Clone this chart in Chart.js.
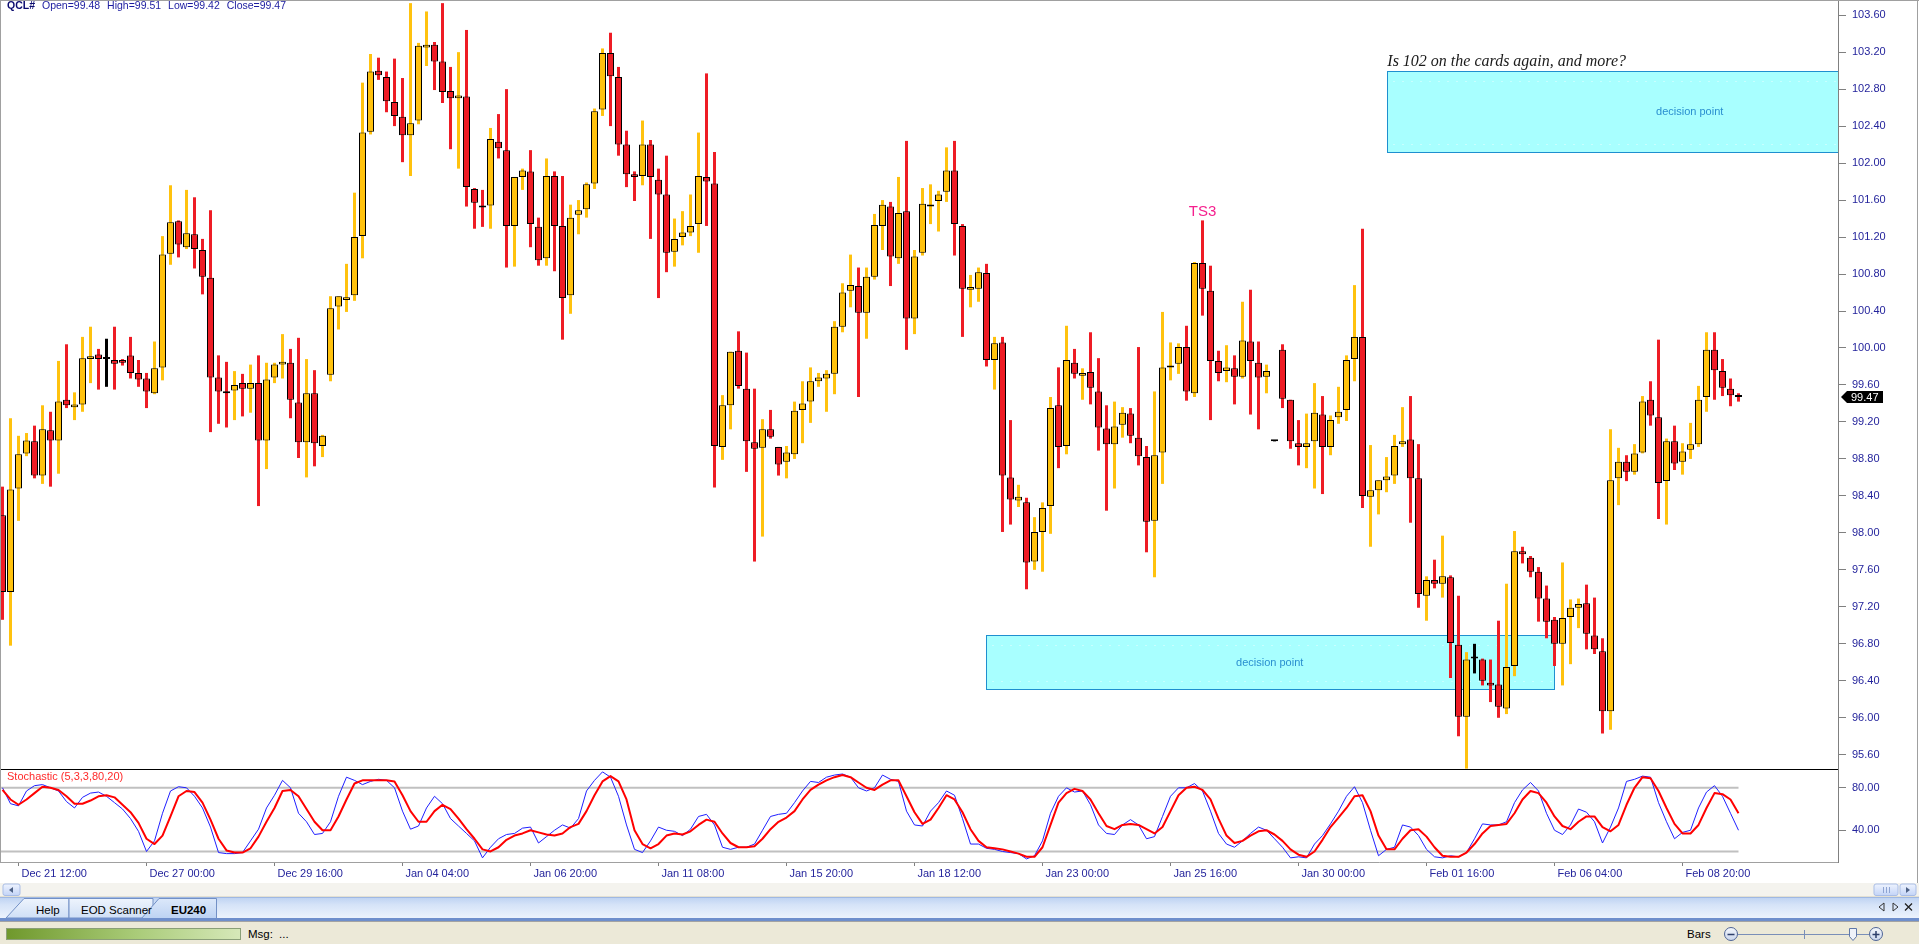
<!DOCTYPE html>
<html>
<head>
<meta charset="utf-8">
<title>QCL# 240 min</title>
<script src="https://cdn.jsdelivr.net/npm/chart.js@4.4.1/dist/chart.umd.min.js"></script>
<style>
  html, body { margin: 0; padding: 0; background: #fff; width: 1919px; height: 944px; overflow: hidden; }
  canvas { position: absolute; left: 0; }
  #main { top: 0; }
  #stoch { top: 769px; }
  .rule { position: absolute; background: #a0a0a0; }
  #bottom { position: absolute; left: 0; top: 883px; }
  #bottom text { font-family: "Liberation Sans", Arial, sans-serif; }
</style>
</head>
<body>
<canvas id="main" width="1919" height="769"></canvas>
<canvas id="stoch" width="1919" height="114"></canvas>
<div class="rule" style="left:0;top:0;width:1919px;height:1px"></div>
<div class="rule" style="left:0;top:0;width:1px;height:862px"></div>
<div class="rule" style="left:1917px;top:0;width:1px;height:883px"></div>

<svg id="bottom" width="1919" height="61" xmlns="http://www.w3.org/2000/svg">
  <defs>
    <linearGradient id="btn" x1="0" y1="0" x2="0" y2="1">
      <stop offset="0" stop-color="#eef3fe"/><stop offset="1" stop-color="#c3d4f7"/>
    </linearGradient>
    <linearGradient id="tabbar" x1="0" y1="0" x2="0" y2="1">
      <stop offset="0" stop-color="#bcd1f2"/><stop offset="0.35" stop-color="#d5e3f8"/><stop offset="1" stop-color="#eef4fd"/>
    </linearGradient>
    <linearGradient id="tab" x1="0" y1="0" x2="0" y2="1">
      <stop offset="0" stop-color="#eef4fd"/><stop offset="1" stop-color="#cfdff6"/>
    </linearGradient>
    <linearGradient id="tabActive" x1="0" y1="0" x2="0" y2="1">
      <stop offset="0" stop-color="#dce8fa"/><stop offset="1" stop-color="#bcd2f3"/>
    </linearGradient>
    <linearGradient id="progress" x1="0" y1="0" x2="1" y2="0">
      <stop offset="0" stop-color="#6f982c"/><stop offset="0.55" stop-color="#a9cb78"/><stop offset="1" stop-color="#d6e8b9"/>
    </linearGradient>
    <linearGradient id="round" x1="0" y1="0" x2="0" y2="1">
      <stop offset="0" stop-color="#f4f7fc"/><stop offset="1" stop-color="#c9d5ec"/>
    </linearGradient>
  </defs>
  <!-- horizontal scroll row -->
  <rect x="0" y="0" width="1919" height="14" fill="#f4f3ee"/>
  <rect x="0" y="13" width="1919" height="1" fill="#e3e0d3"/>
  <rect x="3" y="1" width="17" height="11.5" rx="2" fill="url(#btn)" stroke="#a9bde6"/>
  <polygon points="9,7 13,4 13,10" fill="#4d6185"/>
  <rect x="1874" y="1" width="24" height="11.5" rx="2" fill="url(#btn)" stroke="#a9bde6"/>
  <path d="M1883.5 4v6M1886.5 4v6M1889.5 4v6" stroke="#8ea4d2"/>
  <rect x="1900" y="1" width="16" height="11.5" rx="2" fill="url(#btn)" stroke="#a9bde6"/>
  <polygon points="1910,7 1906,4 1906,10" fill="#4d6185"/>
  <!-- tab strip -->
  <rect x="0" y="14" width="1919" height="22" fill="url(#tabbar)"/>
  <rect x="0" y="14" width="1919" height="1" fill="#9fb8e2"/>
  <path d="M6 35 L24 15.5 L69 15.5 L69 35 Z" fill="url(#tab)" stroke="#7290c6"/>
  <path d="M69 35 L69 15.5 L153 15.5 L153 35 Z" fill="url(#tab)" stroke="#7290c6"/>
  <path d="M141 36 L159 15.5 L216.5 15.5 L216.5 36 Z" fill="url(#tabActive)" stroke="#7290c6"/>
  <text x="36" y="31" font-size="11.5" fill="#000">Help</text>
  <text x="81" y="31" font-size="11.5" fill="#000">EOD Scanner</text>
  <text x="171" y="31" font-size="11.5" font-weight="bold" fill="#000">EU240</text>
  <path d="M1884 20 L1879 24 L1884 28 Z M1893 20 L1898 24 L1893 28 Z" fill="none" stroke="#333"/>
  <path d="M1905 20.5 L1912 27.5 M1912 20.5 L1905 27.5" stroke="#222" stroke-width="1.3"/>
  <rect x="0" y="35" width="1919" height="3" fill="#6f8fcc"/>
  <rect x="0" y="38" width="1919" height="1" fill="#a3a3a3"/>
  <!-- status bar -->
  <rect x="0" y="39" width="1919" height="22" fill="#ece9d8"/>
  <rect x="6.5" y="45.5" width="234" height="11" fill="url(#progress)" stroke="#8a9f78"/>
  <text x="248" y="55" font-size="11.5" fill="#000">Msg:</text>
  <text x="279" y="55" font-size="11.5" fill="#000">...</text>
  <text x="1687" y="55" font-size="11.5" fill="#000">Bars</text>
  <line x1="1738" y1="51.5" x2="1869" y2="51.5" stroke="#7a8fb8"/>
  <line x1="1804.5" y1="47" x2="1804.5" y2="56" stroke="#7a8fb8"/>
  <circle cx="1731" cy="51" r="6.5" fill="url(#round)" stroke="#4f6596"/>
  <line x1="1727.5" y1="51.5" x2="1734.5" y2="51.5" stroke="#2d3f6b" stroke-width="1.5"/>
  <polygon points="1849.5,45.5 1856.5,45.5 1856.5,53.5 1853,57.5 1849.5,53.5" fill="#eef2f9" stroke="#6078a8"/>
  <circle cx="1876" cy="51" r="6.5" fill="url(#round)" stroke="#4f6596"/>
  <path d="M1872.5 51.5h7M1876 48v7" stroke="#2d3f6b" stroke-width="1.5"/>
</svg>

<script>
// 240-minute bars, oldest first
const opens = [
    98.19, 97.36, 98.48, 98.86, 98.99, 98.62, 99.11, 99.00, 99.44, 99.36,
    99.39, 99.88, 99.93, 99.88, 99.87, 99.87, 99.92, 99.73, 99.67, 99.51,
    99.79, 101.02, 101.37, 101.09, 101.23, 101.06, 100.76, 99.68, 99.53, 99.54,
    99.62, 99.56, 99.62, 99.00, 99.68, 99.82, 99.84, 99.41, 98.98, 99.51,
    98.94, 99.71, 100.45, 100.52, 100.57, 101.21, 102.34, 103.00, 102.93, 102.66,
    102.50, 102.30, 102.46, 103.25, 103.28, 103.10, 102.78, 102.70, 102.72, 101.72,
    101.54, 101.54, 102.23, 102.14, 101.32, 101.85, 101.91, 101.31, 100.97, 101.86,
    101.32, 100.57, 101.44, 101.50, 101.78, 102.58, 103.19, 102.93, 102.20, 101.88,
    101.86, 102.20, 101.82, 101.66, 101.04, 101.20, 101.25, 101.34, 101.85, 101.78,
    98.93, 99.38, 99.97, 99.56, 98.98, 98.92, 99.12, 98.93, 98.77, 98.85,
    99.33, 99.42, 99.64, 99.67, 99.72, 100.23, 100.62, 100.67, 100.38, 100.77,
    101.32, 101.53, 100.97, 101.48, 100.32, 101.03, 101.53, 101.59, 101.69, 101.92,
    101.32, 100.63, 100.64, 100.81, 99.87, 100.06, 98.60, 98.35, 98.33, 97.69,
    98.01, 98.29, 99.38, 98.94, 99.84, 99.70, 99.74, 99.53, 99.13, 98.96,
    99.17, 99.29, 99.03, 98.82, 98.13, 98.87, 99.79, 99.83, 100.01, 99.51,
    100.92, 100.62, 99.86, 99.75, 99.78, 99.69, 100.07, 99.84, 99.69, 98.99,
    99.98, 99.44, 98.97, 98.93, 98.99, 99.28, 98.93, 99.25, 99.33, 99.88,
    100.12, 98.39, 98.46, 98.57, 98.62, 98.96, 99.01, 98.59, 97.32, 97.49,
    97.45, 97.52, 96.79, 96.01, 96.64, 96.63, 96.38, 96.36, 96.10, 96.56,
    97.80, 97.73, 97.58, 97.29, 97.06, 96.80, 97.09, 97.19, 97.24, 96.89,
    96.72, 96.07, 98.59, 98.77, 98.66, 98.87, 99.44, 99.25, 98.56, 98.99,
    98.77, 98.90, 98.96, 99.47, 99.98, 99.75, 99.56, 99.48
];
const highs = [
    98.50, 99.24, 99.05, 99.08, 99.16, 99.38, 99.31, 99.86, 100.04, 99.52,
    100.12, 100.23, 99.99, 100.10, 100.23, 99.88, 100.12, 99.87, 99.73, 100.07,
    101.21, 101.76, 101.38, 101.71, 101.63, 101.18, 101.49, 99.92, 99.85, 99.75,
    99.72, 99.82, 99.92, 99.84, 99.84, 100.15, 99.99, 100.11, 99.88, 99.76,
    99.06, 100.56, 100.56, 100.91, 101.68, 102.87, 103.18, 103.14, 102.99, 103.13,
    102.92, 103.73, 103.30, 103.64, 103.31, 103.73, 103.04, 103.20, 103.44, 101.73,
    101.71, 102.38, 102.53, 102.80, 101.85, 101.94, 102.14, 101.41, 102.05, 101.91,
    101.86, 101.55, 101.60, 101.79, 102.59, 103.24, 103.41, 103.04, 102.35, 101.91,
    102.46, 102.25, 101.94, 102.08, 101.40, 101.48, 101.66, 102.33, 102.97, 102.12,
    99.49, 99.96, 100.18, 99.95, 99.56, 99.23, 99.33, 98.93, 98.94, 99.42,
    99.64, 99.79, 99.73, 99.76, 100.29, 100.70, 101.01, 100.87, 100.87, 101.45,
    101.60, 101.58, 101.85, 102.24, 101.06, 101.73, 101.77, 101.70, 102.17, 102.24,
    101.34, 100.79, 100.87, 100.91, 100.12, 100.12, 99.22, 98.52, 98.38, 98.17,
    98.33, 99.47, 99.79, 100.24, 99.99, 99.78, 100.17, 99.89, 99.38, 99.42,
    99.36, 99.35, 100.01, 98.94, 99.53, 100.39, 100.06, 100.05, 100.24, 100.93,
    101.38, 100.89, 99.97, 100.03, 99.92, 100.50, 100.63, 100.07, 99.82, 98.99,
    100.04, 99.44, 99.22, 99.29, 99.62, 99.48, 99.27, 99.58, 99.92, 100.68,
    101.29, 98.95, 98.57, 98.82, 99.06, 99.36, 99.48, 98.96, 97.53, 97.71,
    97.97, 97.54, 97.32, 96.71, 96.80, 96.64, 96.63, 97.05, 97.45, 98.02,
    97.85, 97.75, 97.63, 97.43, 97.09, 97.68, 97.28, 97.29, 97.44, 97.30,
    96.86, 99.12, 98.92, 98.84, 98.96, 99.48, 99.64, 100.09, 99.02, 99.16,
    98.97, 99.19, 99.59, 100.17, 100.17, 99.88, 99.67, 99.51
];
const lows = [
    97.06, 96.78, 98.13, 98.83, 98.59, 98.53, 98.50, 98.64, 99.35, 99.22,
    99.31, 99.62, 99.55, 99.58, 99.55, 99.81, 99.67, 99.58, 99.35, 99.50,
    99.65, 100.90, 100.98, 101.07, 100.86, 100.58, 99.09, 99.18, 99.14, 99.22,
    99.26, 99.30, 98.29, 98.69, 99.62, 99.67, 99.24, 98.81, 98.60, 98.72,
    98.82, 99.64, 100.20, 100.39, 100.51, 100.97, 102.31, 102.90, 102.55, 102.40,
    102.01, 101.86, 102.42, 103.05, 102.79, 102.65, 102.15, 101.94, 101.53, 101.29,
    101.31, 101.29, 102.05, 100.87, 100.88, 101.71, 101.09, 100.89, 100.89, 100.83,
    100.09, 100.37, 101.23, 101.41, 101.72, 102.51, 102.40, 102.08, 101.74, 101.59,
    101.76, 101.18, 100.54, 100.82, 100.88, 101.11, 101.21, 101.03, 101.32, 98.49,
    98.79, 99.12, 99.56, 98.66, 97.69, 97.96, 99.02, 98.62, 98.59, 98.80,
    98.97, 99.19, 99.58, 99.31, 99.50, 100.17, 100.44, 99.47, 100.10, 100.74,
    101.06, 100.67, 100.91, 99.98, 100.15, 101.00, 101.34, 101.26, 101.58, 101.00,
    100.12, 100.44, 100.50, 99.80, 99.55, 98.01, 98.09, 98.28, 97.39, 97.60,
    97.58, 97.99, 98.70, 98.85, 99.67, 99.44, 99.39, 98.89, 98.24, 98.48,
    99.03, 98.97, 98.73, 97.79, 97.52, 98.53, 99.65, 99.72, 99.43, 99.47,
    100.35, 99.22, 99.64, 99.63, 99.39, 99.67, 99.28, 99.12, 99.51, 98.99,
    99.35, 98.91, 98.73, 98.70, 98.48, 98.42, 98.84, 99.18, 99.21, 99.64,
    98.27, 97.85, 98.20, 98.44, 98.53, 98.93, 98.11, 97.19, 97.05, 97.40,
    97.30, 96.43, 95.80, 95.45, 96.48, 96.35, 96.17, 96.00, 96.04, 96.45,
    97.67, 97.52, 97.04, 96.86, 96.56, 96.35, 96.58, 96.97, 96.74, 96.69,
    95.83, 95.87, 98.30, 98.56, 98.63, 98.86, 99.16, 98.15, 98.09, 98.68,
    98.63, 98.80, 98.93, 99.31, 99.44, 99.48, 99.37, 99.42
];
const closes = [
    97.36, 98.47, 98.85, 99.00, 98.62, 99.12, 99.00, 99.42, 99.38, 99.39,
    99.89, 99.91, 99.88, 99.88, 99.83, 99.84, 99.73, 99.66, 99.53, 99.78,
    101.01, 101.36, 101.12, 101.24, 101.07, 100.77, 99.68, 99.53, 99.51, 99.60,
    99.56, 99.62, 99.00, 99.66, 99.82, 99.85, 99.44, 98.98, 99.51, 98.97,
    99.05, 100.43, 100.56, 100.55, 101.20, 102.33, 102.99, 102.95, 102.67, 102.51,
    102.30, 102.43, 103.27, 103.28, 103.10, 102.77, 102.70, 102.73, 101.74, 101.57,
    101.52, 102.26, 102.16, 101.32, 101.85, 101.92, 101.34, 100.95, 101.86, 101.32,
    100.54, 101.41, 101.49, 101.77, 102.56, 103.19, 102.94, 102.20, 101.88, 101.85,
    102.20, 101.85, 101.66, 101.03, 101.18, 101.25, 101.32, 101.86, 101.80, 98.94,
    99.38, 99.96, 99.59, 98.99, 98.91, 99.12, 99.04, 98.74, 98.87, 99.32,
    99.40, 99.64, 99.68, 99.72, 100.23, 100.60, 100.68, 100.38, 100.77, 101.33,
    101.55, 100.99, 101.46, 100.32, 100.99, 101.56, 101.55, 101.66, 101.92, 101.34,
    100.64, 100.66, 100.82, 99.87, 100.05, 98.62, 98.36, 98.39, 97.68, 98.01,
    98.27, 99.35, 98.93, 99.87, 99.72, 99.73, 99.57, 99.14, 98.96, 99.15,
    99.30, 99.05, 98.83, 98.12, 98.84, 99.79, 99.81, 100.01, 99.53, 100.92,
    100.64, 99.86, 99.73, 99.79, 99.69, 100.08, 99.86, 99.68, 99.75, 98.99,
    99.45, 98.99, 98.93, 98.97, 99.30, 98.93, 99.22, 99.31, 99.87, 100.12,
    98.40, 98.46, 98.57, 98.61, 98.94, 98.99, 98.59, 97.34, 97.49, 97.45,
    97.53, 96.81, 96.01, 96.63, 96.64, 96.40, 96.35, 96.12, 96.55, 97.80,
    97.77, 97.58, 97.29, 97.04, 96.80, 97.08, 97.19, 97.23, 96.91, 96.74,
    96.07, 98.57, 98.77, 98.66, 98.86, 99.42, 99.27, 98.54, 98.99, 98.75,
    98.88, 98.96, 99.44, 99.98, 99.76, 99.57, 99.49, 99.47
];

// Stochastic (5,3,3): %K (blue) and %D (red), one value per bar
const stochK = [
    80, 65, 63, 77, 82, 83, 80, 77, 67, 61,
    71, 75, 76, 72, 66, 60, 51, 39, 20, 30,
    56, 77, 81, 80, 72, 61, 43, 19, 18, 18,
    19, 30, 41, 61, 73, 87, 80, 56, 48, 36,
    37, 48, 72, 90, 87, 83, 86, 88, 87, 80,
    58, 41, 44, 61, 72, 65, 51, 44, 37, 30,
    14, 24, 32, 36, 37, 42, 43, 28, 34, 40,
    45, 42, 51, 77, 87, 95, 90, 72, 45, 22,
    19, 30, 43, 40, 39, 35, 41, 53, 55, 45,
    24, 22, 24, 24, 27, 40, 53, 55, 56, 66,
    77, 86, 85, 90, 92, 93, 90, 80, 77, 80,
    92, 88, 86, 58, 45, 44, 58, 66, 77, 73,
    51, 27, 27, 23, 22, 20, 19, 18, 13, 16,
    30, 56, 72, 80, 76, 77, 64, 45, 37, 36,
    45, 50, 45, 32, 34, 53, 72, 80, 80, 84,
    77, 58, 37, 27, 24, 30, 37, 43, 40, 32,
    24, 14, 15, 14, 27, 35, 46, 58, 72, 81,
    66, 40, 16, 22, 24, 45, 43, 35, 22, 15,
    14, 16, 15, 19, 32, 46, 45, 45, 48, 66,
    78, 85, 77, 56, 40, 36, 45, 60, 57, 48,
    28, 43, 61, 86, 88, 91, 90, 66, 48, 32,
    38, 40, 61, 76, 82, 72, 56, 40
];
const stochD = [
    78, 69, 64, 69, 75, 81, 80, 78, 72, 65,
    65, 68, 72, 73, 71, 64, 57, 47, 32, 27,
    35, 53, 72, 77, 76, 66, 50, 32, 21, 19,
    19, 23, 34, 48, 61, 77, 78, 72, 60, 48,
    40, 40, 53, 69, 84, 87, 87, 87, 87, 86,
    73, 58, 48, 48, 58, 64, 60, 51, 41, 32,
    22, 20, 24, 31, 35, 37, 40, 38, 36, 35,
    37, 43, 46, 58, 73, 86, 91, 86, 69, 40,
    27, 23, 27, 35, 37, 36, 39, 45, 50, 48,
    37, 28, 24, 24, 25, 32, 41, 48, 52, 58,
    69, 78, 83, 87, 90, 92, 90, 85, 80, 78,
    83, 87, 87, 72, 57, 46, 50, 61, 73, 69,
    57, 41, 30, 24, 23, 22, 20, 18, 15, 15,
    24, 45, 66, 75, 79, 77, 69, 56, 44, 41,
    45, 46, 45, 41, 37, 43, 58, 73, 80, 81,
    78, 69, 51, 35, 28, 30, 35, 39, 40, 36,
    30, 22, 17, 15, 20, 31, 43, 52, 61, 72,
    73, 58, 35, 22, 22, 32, 40, 41, 34, 24,
    16, 15, 15, 19, 27, 37, 44, 45, 46, 56,
    69, 77, 75, 66, 53, 44, 41, 48, 53, 53,
    43, 39, 45, 64, 80, 90, 89, 77, 61, 46,
    37, 37, 45, 61, 75, 74, 69, 56
];
const stochLevels = [80, 20];

// axis ticks
const xTickIndex = [2, 18, 34, 50, 66, 82, 98, 114, 130, 146, 162, 178, 194, 210];
const xTickLabels = ['Dec 21 12:00', 'Dec 27 00:00', 'Dec 29 16:00', 'Jan 04 04:00', 'Jan 06 20:00',
    'Jan 11 08:00', 'Jan 15 20:00', 'Jan 18 12:00', 'Jan 23 00:00', 'Jan 25 16:00',
    'Jan 30 00:00', 'Feb 01 16:00', 'Feb 06 04:00', 'Feb 08 20:00'];
const priceTicks = [95.6, 96.0, 96.4, 96.8, 97.2, 97.6, 98.0, 98.4, 98.8, 99.2, 99.6,
    100.0, 100.4, 100.8, 101.2, 101.6, 102.0, 102.4, 102.8, 103.2, 103.6];
const stochTicks = [40, 80];

// drawn objects: decision point zones (bar index from/to, price top/bottom)
const zoneFrom = [122.9, 173.1];
const zoneTo = [193.9, 260];
const zoneTop = [96.90, 103.00];
const zoneBottom = [96.31, 102.12];
const zoneLabelAt = [158.4, 210.9];
const zoneLabel = 'decision point';
const noteText = 'Is 102 on the cards again, and more?';
const tsIndex = 150;
const tsText = 'TS3';
const symbol = 'QCL#';

// visible ranges of the panels
const X_MIN = -0.3125;
const X_MAX = X_MIN + 1838 / 8;
const PRICE_MIN = 95.446;
const PRICE_MAX = 103.764;
const STOCH_MIN = 10.1;
const STOCH_MAX = 97.7;
const AXIS_WIDTH = 81;
const XAXIS_HEIGHT = 21;

const FONT = '"Liberation Sans", Arial, sans-serif';
const LABEL_COLOR = '#24249c';
const UP = '#FFC20E';
const DOWN = '#EE1C25';

Chart.defaults.font.family = FONT;

const candleColor = (i) => closes[i] > opens[i] ? UP : (closes[i] < opens[i] ? DOWN : '#000000');
const barIndex = opens.map((_, i) => i);
const candleColors = barIndex.map(candleColor);
const wickData = barIndex.map(i => ({ x: i, y: [lows[i], highs[i]] }));
const bodyData = barIndex.map(i => ({ x: i, y: [opens[i], closes[i]] }));

// keep the right axis exactly as wide as in the picture and stop label padding from shrinking the plot
const fixRightAxis = (scale) => {
    scale.width = AXIS_WIDTH;
    scale.paddingTop = 0;
    scale.paddingBottom = 0;
};
const fixBottomAxis = (scale) => {
    scale.height = XAXIS_HEIGHT;
    scale.paddingLeft = 0;
    scale.paddingRight = 0;
};

const rightAxis = (min, max, ticks) => ({
    type: 'linear',
    position: 'right',
    min: min,
    max: max,
    bounds: 'data',
    afterBuildTicks: (scale) => { scale.ticks = ticks.map(v => ({ value: v })); },
    afterFit: fixRightAxis,
    ticks: {
        callback: (v) => Number(v).toFixed(2),
        color: LABEL_COLOR,
        font: { size: 11 },
        padding: 6
    },
    grid: { display: true, drawOnChartArea: false, drawTicks: true, tickLength: 8, color: '#808080' },
    border: { display: true, color: '#808080' }
});

// boxes, notes, header line and last price marker on the price panel
const mainOverlay = {
    id: 'mainOverlay',
    beforeDatasetsDraw(chart) {
        const { ctx, chartArea, scales: { x, y } } = chart;
        ctx.save();
        ctx.beginPath();
        ctx.rect(chartArea.left, chartArea.top, chartArea.right - chartArea.left, chartArea.bottom - chartArea.top);
        ctx.clip();
        zoneFrom.forEach((from, i) => {
            const left = Math.round(x.getPixelForValue(from)) + 0.5;
            const right = Math.round(x.getPixelForValue(zoneTo[i])) + 0.5;
            const top = Math.round(y.getPixelForValue(zoneTop[i])) + 0.5;
            const bottom = Math.round(y.getPixelForValue(zoneBottom[i])) + 0.5;
            ctx.fillStyle = '#a8ffff';
            ctx.fillRect(left, top, right - left, bottom - top);
            ctx.strokeStyle = '#1f8fcf';
            ctx.lineWidth = 1;
            ctx.strokeRect(left, top, right - left, bottom - top);
            // faint dotted guides inside the box
            ctx.setLineDash([1, 8]);
            ctx.strokeStyle = '#e8ffff';
            ctx.beginPath();
            ctx.moveTo(left + 6, top + 10);
            ctx.lineTo(right, top + 10);
            ctx.moveTo(left + 6, bottom - 8);
            ctx.lineTo(right, bottom - 8);
            ctx.stroke();
            ctx.setLineDash([]);
            ctx.fillStyle = '#2a8fd0';
            ctx.font = '11px ' + FONT;
            ctx.textAlign = 'center';
            ctx.textBaseline = 'middle';
            ctx.fillText(zoneLabel, x.getPixelForValue(zoneLabelAt[i]), (top + bottom) / 2);
        });
        ctx.restore();
    },
    afterDatasetsDraw(chart) {
        const { ctx, scales: { x, y } } = chart;
        ctx.save();
        // TS3 mark above the bar's high
        ctx.font = '15px ' + FONT;
        ctx.fillStyle = '#f5208e';
        ctx.textAlign = 'center';
        ctx.textBaseline = 'alphabetic';
        ctx.fillText(tsText, x.getPixelForValue(tsIndex), y.getPixelForValue(highs[tsIndex]) - 4);
        // comment over the upper zone
        ctx.font = 'italic 16px "Liberation Serif", "Times New Roman", serif';
        ctx.fillStyle = '#1a1a1a';
        ctx.textAlign = 'left';
        ctx.fillText(noteText, x.getPixelForValue(zoneFrom[1]), y.getPixelForValue(zoneTop[1]) - 5);
        ctx.restore();
    },
    afterDraw(chart) {
        const { ctx, chartArea, scales: { y } } = chart;
        const last = opens.length - 1;
        ctx.save();
        // header line with the last bar's values
        ctx.textBaseline = 'middle';
        ctx.textAlign = 'left';
        ctx.font = 'bold 10.5px ' + FONT;
        ctx.fillStyle = '#0c0c70';
        ctx.fillText(symbol, 7, 6);
        let tx = 7 + ctx.measureText(symbol).width + 7;
        ctx.font = '10.5px ' + FONT;
        ctx.fillStyle = '#1c1ca0';
        [['Open', opens[last]], ['High', highs[last]], ['Low', lows[last]], ['Close', closes[last]]].forEach(([name, v]) => {
            const s = name + '=' + v.toFixed(2);
            ctx.fillText(s, tx, 6);
            tx += ctx.measureText(s).width + 7;
        });
        // last price marker on the axis
        const py = Math.round(y.getPixelForValue(closes[last]));
        const ax = chartArea.right;
        ctx.fillStyle = '#000';
        ctx.beginPath();
        ctx.moveTo(ax + 3, py);
        ctx.lineTo(ax + 9, py - 6);
        ctx.lineTo(ax + 45, py - 6);
        ctx.lineTo(ax + 45, py + 6);
        ctx.lineTo(ax + 9, py + 6);
        ctx.closePath();
        ctx.fill();
        ctx.fillStyle = '#fff';
        ctx.font = '11px ' + FONT;
        ctx.fillText(closes[last].toFixed(2), ax + 13, py + 0.5);
        ctx.restore();
    }
};

// panel title and separator on the stochastic panel
const stochOverlay = {
    id: 'stochOverlay',
    afterDraw(chart) {
        const { ctx, chartArea } = chart;
        ctx.save();
        ctx.fillStyle = '#000';
        ctx.fillRect(0, chartArea.top, chartArea.right, 1);
        ctx.font = '11px ' + FONT;
        ctx.fillStyle = '#ff2a2a';
        ctx.textAlign = 'left';
        ctx.textBaseline = 'middle';
        ctx.fillText('Stochastic (5,3,3,80,20)', 7, chartArea.top + 8);
        ctx.restore();
    }
};

const mainChart = new Chart(document.getElementById('main'), {
    type: 'bar',
    data: {
        datasets: [
            {
                label: 'body',
                data: bodyData,
                backgroundColor: candleColors,
                borderColor: '#000000',
                borderWidth: 1,
                borderSkipped: false,
                barThickness: 7,
                minBarLength: 2,
                inflateAmount: 0,
                grouped: false,
                order: 0
            },
            {
                label: 'wick',
                data: wickData,
                backgroundColor: candleColors,
                borderWidth: 0,
                barThickness: 3,
                minBarLength: 1,
                inflateAmount: 0,
                grouped: false,
                order: 1
            }
        ]
    },
    options: {
        responsive: false,
        animation: false,
        events: [],
        layout: { padding: 0 },
        plugins: { legend: { display: false }, tooltip: { enabled: false } },
        scales: {
            x: { type: 'linear', min: X_MIN, max: X_MAX, offset: false, display: false, grid: { offset: false } },
            y: rightAxis(PRICE_MIN, PRICE_MAX, priceTicks)
        }
    },
    plugins: [mainOverlay]
});

const stochChart = new Chart(document.getElementById('stoch'), {
    type: 'line',
    data: {
        datasets: [
            {
                label: '%D',
                data: stochD.map((v, i) => ({ x: i, y: v })),
                borderColor: '#ff0000',
                borderWidth: 2,
                borderJoinStyle: 'round',
                pointRadius: 0,
                order: 0
            },
            {
                label: '%K',
                data: stochK.map((v, i) => ({ x: i, y: v })),
                borderColor: '#1f1fff',
                borderWidth: 1,
                pointRadius: 0,
                order: 1
            },
            ...stochLevels.map(level => ({
                label: 'level ' + level,
                data: [{ x: X_MIN, y: level }, { x: opens.length - 1, y: level }],
                borderColor: '#c0c0c0',
                borderWidth: 2,
                pointRadius: 0,
                order: 2
            }))
        ]
    },
    options: {
        responsive: false,
        animation: false,
        events: [],
        layout: { padding: 0 },
        plugins: { legend: { display: false }, tooltip: { enabled: false } },
        scales: {
            x: {
                type: 'linear',
                min: X_MIN,
                max: X_MAX,
                bounds: 'data',
                offset: false,
                afterBuildTicks: (scale) => { scale.ticks = xTickIndex.map(v => ({ value: v })); },
                afterFit: fixBottomAxis,
                ticks: {
                    callback: (v, i) => xTickLabels[i],
                    autoSkip: false,
                    maxRotation: 0,
                    minRotation: 0,
                    align: 'start',
                    labelOffset: 3,
                    padding: 1,
                    color: LABEL_COLOR,
                    font: { size: 11 }
                },
                grid: { display: true, drawOnChartArea: false, drawTicks: true, tickLength: 4, color: '#808080', offset: false },
                border: { display: true, color: '#a0a0a0' }
            },
            y: rightAxis(STOCH_MIN, STOCH_MAX, stochTicks)
        }
    },
    plugins: [stochOverlay]
});
</script>
</body>
</html>
